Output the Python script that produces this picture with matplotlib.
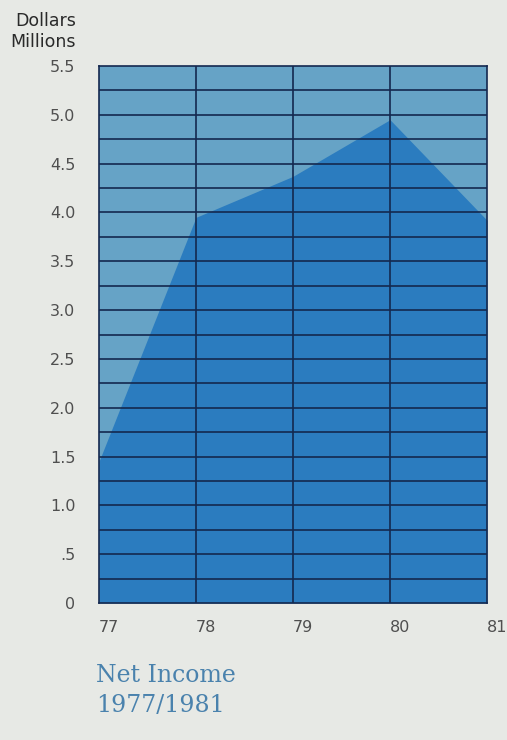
import matplotlib
matplotlib.use("Agg")
import matplotlib.pyplot as plt
import numpy as np

years = [77, 78, 79, 80, 81]
net_income = [1.45, 3.95, 4.37, 4.95, 3.92]
y_ticks = [0, 0.5, 1.0, 1.5, 2.0, 2.5, 3.0, 3.5, 4.0, 4.5, 5.0, 5.5]
y_tick_labels = ["0", ".5", "1.0", "1.5", "2.0", "2.5", "3.0", "3.5", "4.0", "4.5", "5.0", "5.5"]
x_tick_labels = ["77", "78", "79", "80", "81"]

page = "#e7e9e5"
light_blue = "#66a3c6"
dark_blue = "#2b7cbf"
grid_col = "#14284f"
text_col = "#4f4f4f"

fig = plt.figure(figsize=(5.07, 7.40), dpi=100, facecolor=page)
ax = fig.add_axes([99 / 507, 137 / 740, 388 / 507, 537 / 740])
ax.set_facecolor(light_blue)

ax.fill_between(years, net_income, 0, color=dark_blue, linewidth=0, zorder=1)

for y in np.arange(0.25, 5.5, 0.25):
    ax.axhline(y, color=grid_col, linewidth=1.2, zorder=2)
for x in years[1:-1]:
    ax.axvline(x, color=grid_col, linewidth=1.2, zorder=2)

ax.set_xlim(77, 81)
ax.set_ylim(0, 5.5)
for s in ax.spines.values():
    s.set_color(grid_col)
    s.set_linewidth(1.2)
    s.set_zorder(3)

ax.set_yticks(y_ticks)
ax.set_yticklabels(y_tick_labels, fontsize=11.5, color=text_col)
ax.set_xticks(years)
ax.set_xticklabels(x_tick_labels, fontsize=11.5, color=text_col, ha="left")
ax.tick_params(axis="both", length=0)
ax.tick_params(axis="y", pad=17)
ax.tick_params(axis="x", pad=12)

fig.text(76 / 507, 1 - 21 / 740, "Dollars", ha="right", va="center",
         fontsize=12.5, color="#2a2a2a")
fig.text(76 / 507, 1 - 42 / 740, "Millions", ha="right", va="center",
         fontsize=12.5, color="#2a2a2a")

fig.text(96 / 507, 1 - 675 / 740, "Net Income", ha="left", va="center",
         fontsize=17, color="#4a82ad", family="DejaVu Serif")
fig.text(96 / 507, 1 - 706 / 740, "1977/1981", ha="left", va="center",
         fontsize=17, color="#4a82ad", family="DejaVu Serif")

fig.savefig("out.png", dpi=100, facecolor=page)
